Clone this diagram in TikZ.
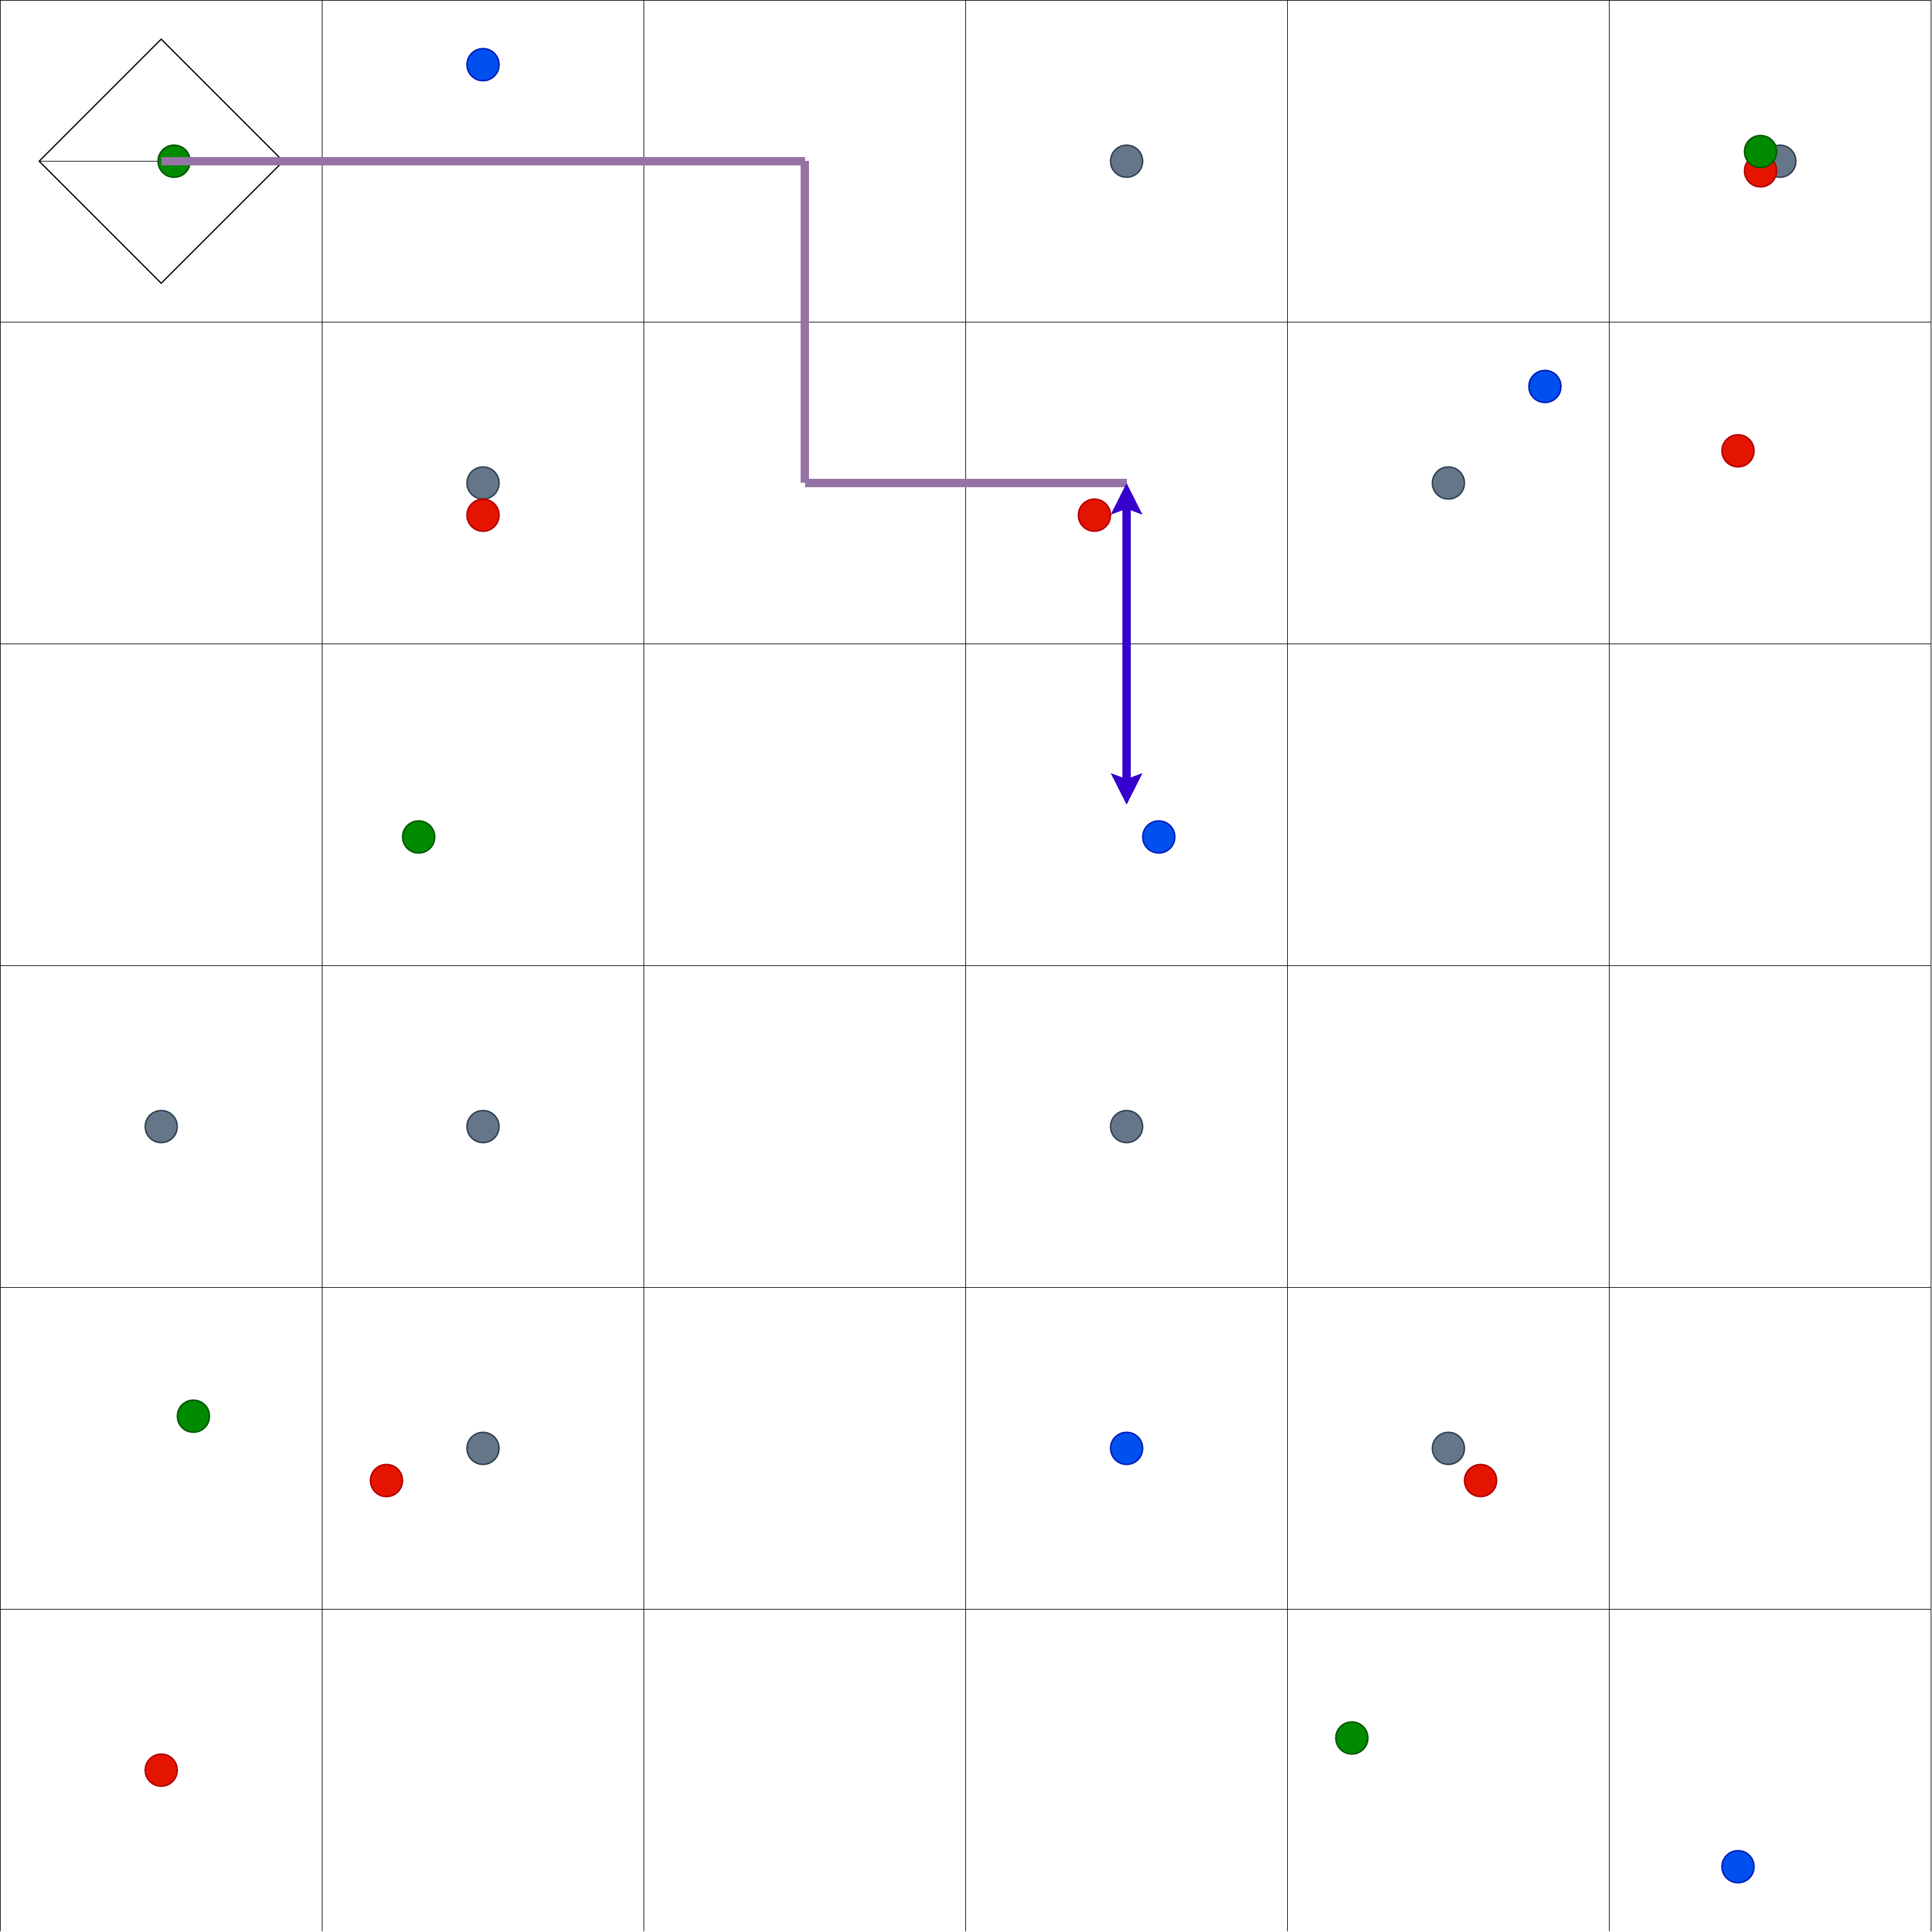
\documentclass[tikz,border=0pt]{standalone}
\definecolor{blfill}{HTML}{0050EF}
\definecolor{bldraw}{HTML}{001DBC}
\definecolor{gnfill}{HTML}{008A00}
\definecolor{gndraw}{HTML}{005700}
\definecolor{rdfill}{HTML}{E51400}
\definecolor{rddraw}{HTML}{B20000}
\definecolor{gyfill}{HTML}{647687}
\definecolor{gydraw}{HTML}{314354}
\definecolor{route}{HTML}{9673A6}
\definecolor{indigo}{HTML}{3700CC}
\usetikzlibrary{shapes.geometric,arrows.meta}

\begin{document}
\begin{tikzpicture}[
  dot/.style={circle, minimum size=0.2cm, inner sep=0pt, line width=0.25pt},
  bl/.style={dot, fill=blfill, draw=bldraw},
  gn/.style={dot, fill=gnfill, draw=gndraw},
  rd/.style={dot, fill=rdfill, draw=rddraw},
  gy/.style={dot, fill=gyfill, draw=gydraw},
  rt/.style={line width=0.052cm, color=route, line cap=butt},
  mv/.style={{Stealth[length=0.192cm, width=0.188cm, inset=0.032cm]}-{Stealth[length=0.192cm, width=0.188cm, inset=0.032cm]}, line width=0.052cm, color=indigo},
]
\useasboundingbox (-0.002,0.002) rectangle (12.002,-12.006);
\draw[line width=0.2pt] (0,0) grid[step=2cm] (12,-12);

% agent
\node[diamond, draw, line width=0.2pt, inner sep=0pt, minimum width=1.52cm, minimum height=1.52cm] (agt) at (1,-1) {};
\draw[line width=0.2pt] (agt.west) -- (agt.center);

% items
\node[bl] (b1) at (3,-0.4) {};
\node[gy] (k1) at (7,-1) {};
\node[gy] (k2) at (11.06,-1) {};
\node[rd] (r1) at (10.94,-1.06) {};
\node[gn] (g2) at (10.94,-0.94) {};
\node[bl] (b2) at (9.6,-2.4) {};
\node[rd] (r2) at (10.8,-2.8) {};
\node[gy] (k3) at (9,-3) {};
\node[gy] (k4) at (3,-3) {};
\node[rd] (r3) at (3,-3.2) {};
\node[rd] (r4) at (6.8,-3.2) {};
\node[gn] (g3) at (2.6,-5.2) {};
\node[bl] (b3) at (7.2,-5.2) {};
\node[gy] (k5) at (1,-7) {};
\node[gy] (k6) at (3,-7) {};
\node[gy] (k7) at (7,-7) {};
\node[gn] (g4) at (1.2,-8.8) {};
\node[gy] (k8) at (3,-9) {};
\node[rd] (r5) at (2.4,-9.2) {};
\node[bl] (b4) at (7,-9) {};
\node[gy] (k9) at (9,-9) {};
\node[rd] (r6) at (9.2,-9.2) {};
\node[gn] (g5) at (8.4,-10.8) {};
\node[rd] (r7) at (1,-11) {};
\node[bl] (b5) at (10.8,-11.6) {};
\node[gn] (g1) at (1.08,-1) {};

% route
\coordinate (w1) at (5,-1);
\coordinate (w2) at (5,-3);
\coordinate (w3) at (7,-3);
\coordinate (w4) at (7,-5);
\draw[rt] (agt.center) -- (w1);
\draw[rt] (w1) -- (w2);
\draw[rt] (w2) -- (w3);
\draw[mv] (w3) -- (w4);
\end{tikzpicture}
\end{document}
